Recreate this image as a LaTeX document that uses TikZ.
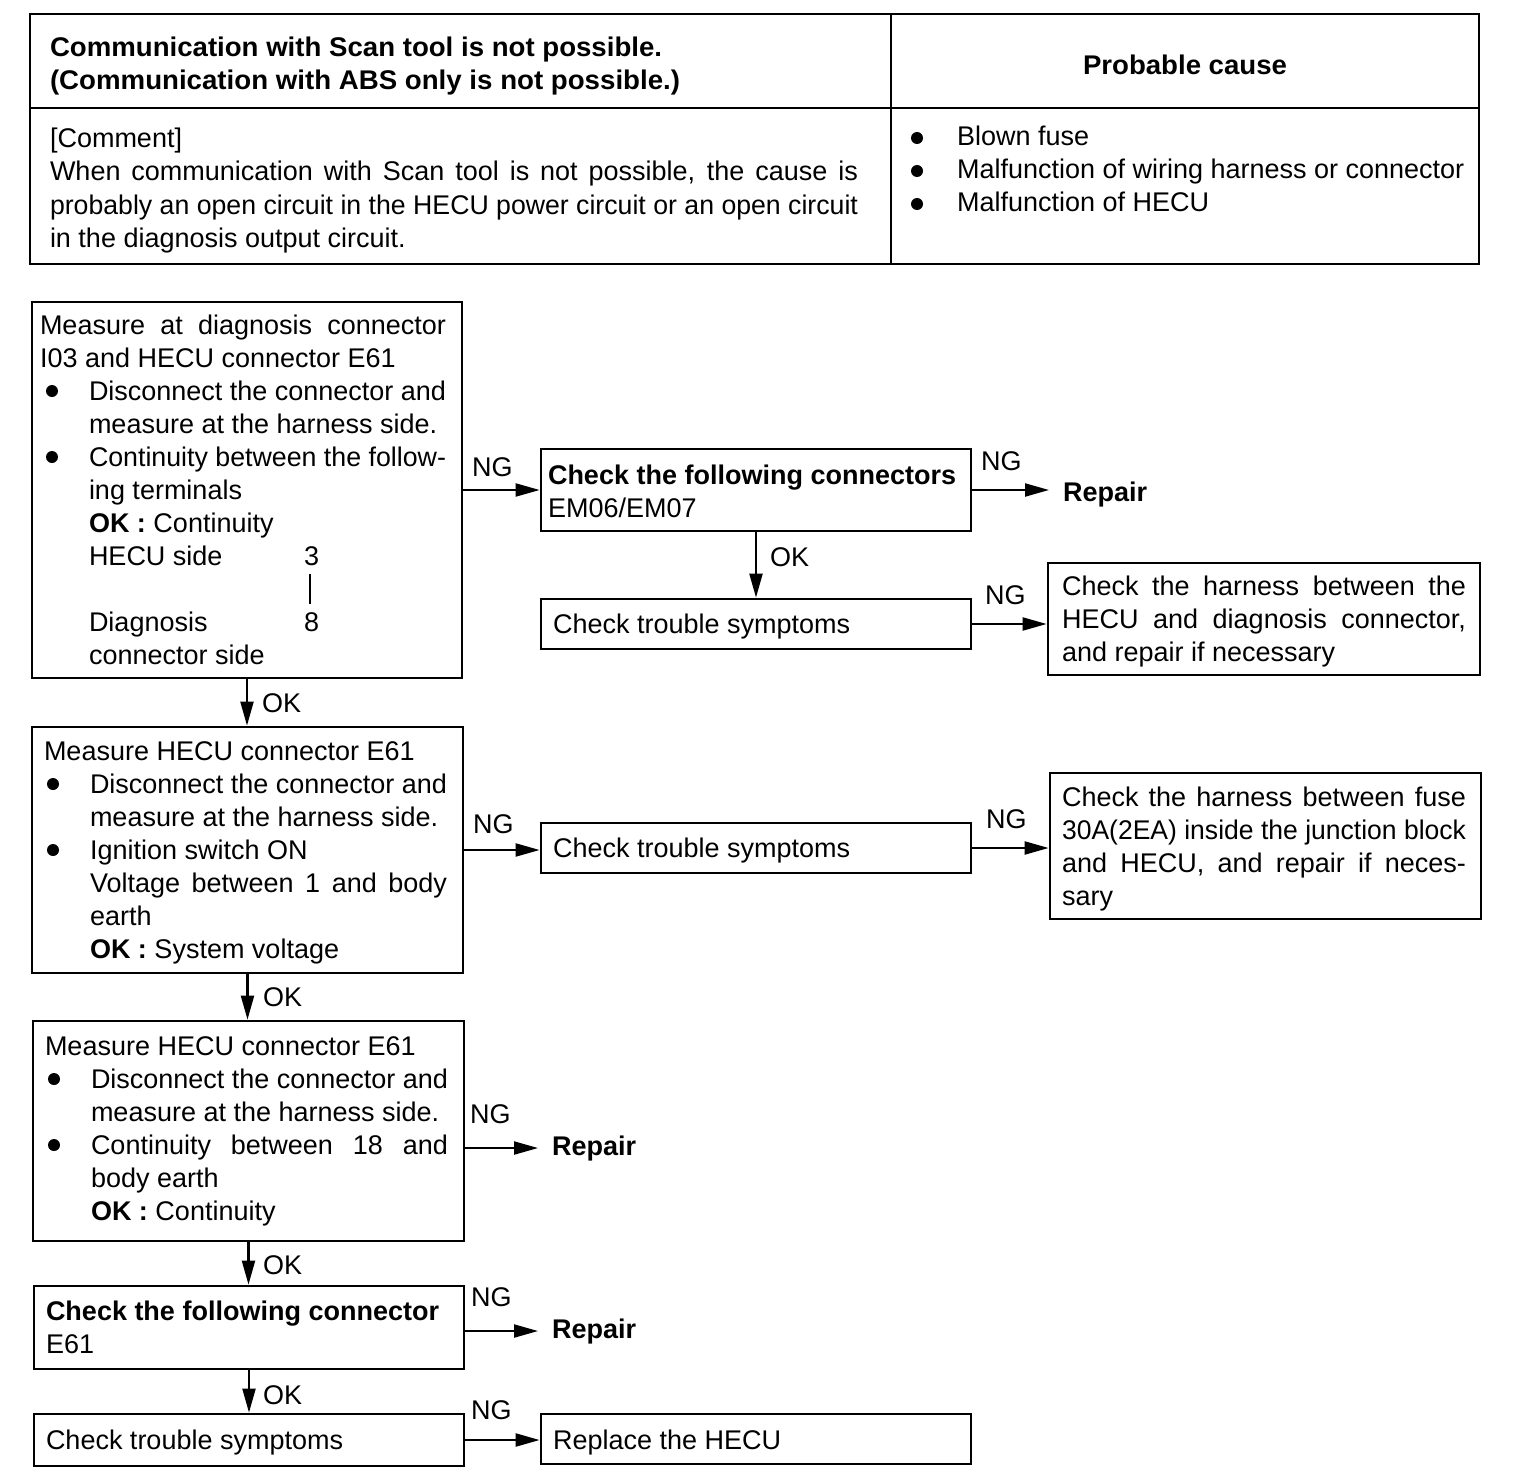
\documentclass[tikz,border=0pt]{standalone}
\usepackage{fontspec}
\setmainfont{Liberation Sans}
\usepackage{graphicx}
\usetikzlibrary{arrows.meta,fit}
\newsavebox\lbox
\newcommand\jl[2]{\sbox\lbox{#2}\ifdim\wd\lbox>#1\relax\resizebox{#1}{\ht\lbox}{\usebox\lbox}\else\makebox[#1][s]{#2}\fi}
\newcommand\fw[2]{\sbox\lbox{#2}\ifdim\wd\lbox>#1\relax\resizebox{#1}{\ht\lbox}{\usebox\lbox}\else\usebox\lbox\fi}
\newcommand\sw[2]{\sbox\lbox{#2}\resizebox{#1}{\ht\lbox}{\usebox\lbox}}
\newcommand\fs{\fontsize{27bp}{33bp}\selectfont}
\newcommand\T[4]{\node[txt] (#1) at (#2,#3) {#4};}
\newcommand\Bx[5]{\path (#2,#3) coordinate (#1a) (#4,#5) coordinate (#1b); \node[bx, fit=(#1a)(#1b)] (#1) {};}
\begin{document}
\begin{tikzpicture}[x=1bp,y=-1bp,
  txt/.style={anchor=base west, inner sep=0pt, outer sep=0pt, font=\fs},
  bx/.style={draw, line width=2.8bp, inner sep=0pt},
  arr/.style={line width=2.2bp, -{Triangle[length=24bp,width=13bp]}},
  tline/.style={line width=2.8bp}]
\useasboundingbox (0,0) rectangle (1536,1480);
% table
\draw[tline] (30,14) rectangle (1479,264);
\draw[tline] (30,108) -- (1479,108);
\draw[tline] (891,14) -- (891,264);
\T{hl1}{50}{57}{\sw{612bp}{\textbf{Communication with Scan tool is not possible.}}}
\T{hl2}{50}{90}{\sw{630bp}{\textbf{(Communication with ABS only is not possible.)}}}
\node[txt, anchor=base] (pc) at (1185,75) {\sw{204bp}{\textbf{Probable cause}}};
\T{c0}{50}{148}{[Comment]}
\T{c1}{50}{181}{\jl{808bp}{When communication with Scan tool is not possible, the cause is}}
\T{c2}{50}{214}{\jl{808bp}{probably an open circuit in the HECU power circuit or an open circuit}}
\T{c3}{50}{247}{in the diagnosis output circuit.}
\T{p1}{957}{146}{Blown fuse}
\T{p2}{957}{179}{\fw{508bp}{Malfunction of wiring harness or connector}}
\T{p3}{957}{212}{Malfunction of HECU}
\fill (917,138) circle (6bp) (917,171) circle (6bp) (917,204) circle (6bp);
% boxes
\Bx{b1}{32}{302}{462}{678}
\Bx{em}{541}{449}{971}{531}
\Bx{cts1}{541}{599}{971}{649}
\Bx{h1}{1048}{563}{1480}{675}
\Bx{b2}{32}{727}{463}{973}
\Bx{cts2}{541}{823}{971}{873}
\Bx{h2}{1050}{773}{1481}{919}
\Bx{b3}{33}{1021}{464}{1241}
\Bx{b4}{34}{1286}{464}{1369}
\Bx{b5}{34}{1414}{464}{1466}
\Bx{b6}{541}{1414}{971}{1464}
% box 1 text
\T{a1}{40}{334}{\jl{406bp}{Measure at diagnosis connector}}
\T{a2}{40}{367}{I03 and HECU connector E61}
\T{a3}{89}{400}{\jl{357bp}{Disconnect the connector and}}
\T{a4}{89}{433}{\fw{355bp}{measure at the harness side.}}
\T{a5}{89}{466}{\jl{357bp}{Continuity between the follow-}}
\T{a6}{89}{499}{ing terminals}
\T{a7}{89}{532}{\textbf{OK :} Continuity}
\T{a8}{89}{565}{HECU side}
\T{a8n}{304}{565}{3}
\draw[line width=2.2bp] (310,574) -- (310,604);
\T{a10}{89}{631}{Diagnosis}
\T{a10n}{304}{631}{8}
\T{a11}{89}{664}{connector side}
\fill (52,391) circle (6bp) (52,457) circle (6bp);
% box 2 text
\T{d1}{44}{760}{Measure HECU connector E61}
\T{d2}{90}{793}{\jl{357bp}{Disconnect the connector and}}
\T{d3}{90}{826}{\fw{355bp}{measure at the harness side.}}
\T{d4}{90}{859}{Ignition switch ON}
\T{d5}{90}{892}{\jl{357bp}{Voltage between 1 and body}}
\T{d6}{90}{925}{earth}
\T{d7}{90}{958}{\textbf{OK :} System voltage}
\fill (53,784) circle (6bp) (53,850) circle (6bp);
% box 3 text
\T{e1}{45}{1055}{Measure HECU connector E61}
\T{e2}{91}{1088}{\jl{357bp}{Disconnect the connector and}}
\T{e3}{91}{1121}{\fw{355bp}{measure at the harness side.}}
\T{e4}{91}{1154}{\jl{357bp}{Continuity between 18 and}}
\T{e5}{91}{1187}{body earth}
\T{e6}{91}{1220}{\textbf{OK :} Continuity}
\fill (54,1079) circle (6bp) (54,1145) circle (6bp);
% other boxes
\T{f1}{46}{1320}{\fw{402bp}{\textbf{Check the following connector}}}
\T{f2}{46}{1353}{E61}
\T{g1}{46}{1449}{Check trouble symptoms}
\T{g2}{553}{1449}{Replace the HECU}
\T{m1}{548}{484}{\fw{410bp}{\textbf{Check the following connectors}}}
\T{m2}{548}{517}{EM06/EM07}
\T{k1}{553}{633}{Check trouble symptoms}
\T{k2}{553}{857}{Check trouble symptoms}
\T{h1a}{1062}{595}{\jl{404bp}{Check the harness between the}}
\T{h1b}{1062}{628}{\jl{404bp}{HECU and diagnosis connector,}}
\T{h1c}{1062}{661}{and repair if necessary}
\T{h2a}{1062}{806}{\jl{404bp}{Check the harness between fuse}}
\T{h2b}{1062}{839}{\jl{404bp}{30A(2EA) inside the junction block}}
\T{h2c}{1062}{872}{\jl{404bp}{and HECU, and repair if neces-}}
\T{h2d}{1062}{905}{sary}
% repair
\T{rep1}{1063}{501}{\textbf{Repair}}
\T{rep3}{552}{1155}{\textbf{Repair}}
\T{rep4}{552}{1338}{\textbf{Repair}}
% connectors
\draw[arr] (b1.east) -- (b1.east -| em.west);
\draw[arr, shorten >=14bp] (em.east) -- (em.east -| rep1.west);
\draw[arr] (em.south) -- (em.south |- cts1.north);
\draw[arr] (cts1.east) -- (cts1.east -| h1.west);
\draw[arr] (b1.south) -- (b1.south |- b2.north);
\draw[arr] (b2.east) -- (b2.east -| cts2.west);
\draw[arr] (cts2.east) -- (cts2.east -| h2.west);
\draw[arr] (b2.south) -- (b2.south |- b3.north);
\draw[arr, shorten >=14bp] (b3.east |- rep3.west) -- (rep3.west);
\draw[arr] (b3.south) -- (b3.south |- b4.north);
\draw[arr, shorten >=14bp] (b4.east |- rep4.west) -- (rep4.west);
\draw[arr] (b4.south) -- (b4.south |- b5.north);
\draw[arr] (b5.east) -- (b5.east -| b6.west);
% labels
\T{n1}{472}{476}{NG}
\T{n2}{981}{470}{NG}
\T{o1}{770}{566}{OK}
\T{n3}{985}{604}{NG}
\T{o2}{262}{712}{OK}
\T{n4}{473}{833}{NG}
\T{n5}{986}{828}{NG}
\T{o3}{263}{1006}{OK}
\T{n6}{470}{1123}{NG}
\T{o4}{263}{1274}{OK}
\T{n7}{471}{1306}{NG}
\T{o5}{263}{1404}{OK}
\T{n8}{471}{1419}{NG}
\end{tikzpicture}
\end{document}
